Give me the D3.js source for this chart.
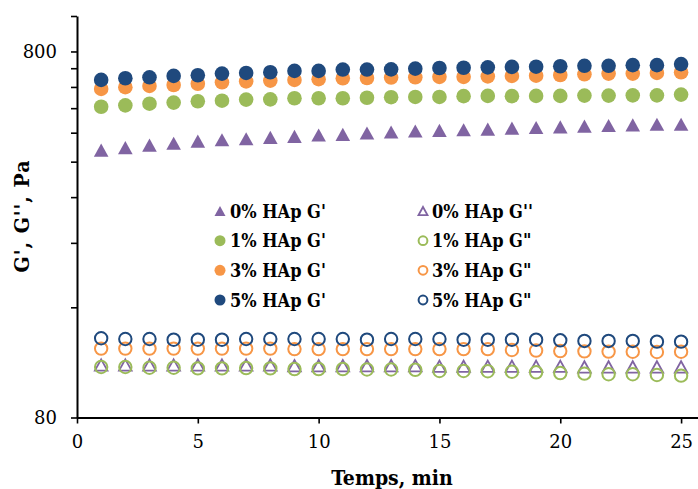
<!DOCTYPE html>
<html><head><meta charset="utf-8">
<script src="https://cdn.jsdelivr.net/npm/d3@7"></script>
<style>body{margin:0;background:#fff} svg{display:block}</style>
</head><body><svg id="c" width="698" height="489"></svg>
<script>
// ---- data ----
const times = [1,2,3,4,5,6,7,8,9,10,11,12,13,14,15,16,17,18,19,20,21,22,23,24,25];
const hap0_Gp  = [430,437,444,449,455,459,462,466,469,473,475,479,482,485,487,489,491,494,496,498,500,502,504,506,506];
const hap0_Gpp = [111.3,111.3,111.3,111.3,111.3,111.3,111.3,111.3,110.8,110.8,110.8,110.8,110.8,110.8,110.4,110.4,110.4,110.4,110.4,110.4,110.0,110.0,110.0,110.0,110.0];
const hap1_Gp  = [565,570,576,580,585,587,591,592,596,596,596,598,600,601,601,604,605,604,605,605,606,606,607,607,610];
const hap1_Gpp = [109.9,109.9,109.4,109.4,109.0,109.0,109.2,109.0,108.5,108.5,108.5,108.2,108.2,108.0,107.2,107.2,107.0,106.7,106.3,105.8,105.4,105.0,105.0,104.5,104.1];
const hap3_Gp  = [632,639,644,648,653,659,663,666,669,672,676,677,679,680,682,682,684,686,687,690,693,696,696,699,702];
const hap3_Gpp = [123.4,123.4,123.4,123.4,123.4,123.4,123.4,123.4,123.0,123.0,123.0,123.0,123.0,123.0,123.0,123.0,123.0,122.3,121.9,121.5,121.3,121.1,121.0,120.8,121.0];
const hap5_Gp  = [669,676,680,686,689,696,699,702,708,708,714,714,715,718,721,722,724,726,727,729,731,731,734,734,739];
const hap5_Gpp = [131.7,131.1,131.1,130.5,130.5,130.5,131.1,131.1,131.1,131.1,131.1,130.5,131.1,131.1,131.1,130.5,130.5,130.5,130.5,130.0,129.5,129.5,129.5,128.9,128.9];
const seriesNames = ["0% HAp G'","0% HAp G''","1% HAp G'","1% HAp G\"","3% HAp G'","3% HAp G\"","5% HAp G'","5% HAp G\""];
const xTicks = [0,5,10,15,20,25];
const yTicks = [80,160,240,320,400,480,560,640,720,800,1000];
const yTickLabels = {80:"80",800:"800"};

const colors = {p:"#8064A2", g:"#9BBB59", o:"#F79646", b:"#1F497D"};
const series = [
  {name:seriesNames[0], vals:hap0_Gp,  color:colors.p, shape:"tri", fill:true},
  {name:seriesNames[1], vals:hap0_Gpp, color:colors.p, shape:"tri", fill:false},
  {name:seriesNames[2], vals:hap1_Gp,  color:colors.g, shape:"circ", fill:true},
  {name:seriesNames[3], vals:hap1_Gpp, color:colors.g, shape:"circ", fill:false},
  {name:seriesNames[4], vals:hap3_Gp,  color:colors.o, shape:"circ", fill:true},
  {name:seriesNames[5], vals:hap3_Gpp, color:colors.o, shape:"circ", fill:false},
  {name:seriesNames[6], vals:hap5_Gp,  color:colors.b, shape:"circ", fill:true},
  {name:seriesNames[7], vals:hap5_Gpp, color:colors.b, shape:"circ", fill:false}
];

// ---- chart ----
const svg = d3.select("#c");
const FONT = "'DejaVu Serif', serif";
const FONTC = "'DejaVu Serif Condensed', 'DejaVu Serif', serif";
const x = d3.scaleLinear().domain([0,25.7]).range([77,698]);
const y = d3.scaleLog().domain([80,1000]).range([417.5,16]);

function triPath(w,h){ return `M0,${-h/2}L${w/2},${h/2}L${-w/2},${h/2}Z`; }

function drawMarker(g, s, size){
  if(s.shape==="circ"){
    if(s.fill) g.append("circle").attr("r",size/2).attr("fill",s.color);
    else g.append("circle").attr("r",size/2-1.1).attr("fill","none").attr("stroke",s.color).attr("stroke-width",2);
  } else {
    if(s.fill) g.append("path").attr("d",triPath(size,size*0.9)).attr("fill",s.color);
    else g.append("path").attr("d",triPath(size-2,(size-2)*0.9)).attr("fill","none").attr("stroke",s.color).attr("stroke-width",1.8);
  }
}

// points
series.forEach(s=>{
  const grp = svg.append("g");
  times.forEach((t,i)=>{
    const m = grp.append("g").attr("transform",`translate(${x(t)},${y(s.vals[i])})`);
    drawMarker(m, s, 14.6);
  });
});

// axes
const yAxis = d3.axisLeft(y).tickValues(yTicks).tickSize(6).tickSizeOuter(0).tickPadding(14)
  .tickFormat(d=>yTickLabels[d]||"");
const gy = svg.append("g").attr("transform","translate(77,0)").call(yAxis);
const xAxis = d3.axisBottom(x).tickValues(xTicks).tickSize(6).tickSizeOuter(0).tickPadding(12);
const gx = svg.append("g").attr("transform","translate(0,417.5)").call(xAxis);
[gx,gy].forEach(g=>{
  g.select(".domain").attr("stroke","#000").attr("stroke-width",2);
  g.selectAll(".tick line").attr("stroke","#000").attr("stroke-width",1.6);
  g.selectAll("text").attr("font-family",FONT).attr("font-size",18).attr("fill","#000");
});

// axis titles
svg.append("text").attr("x",392).attr("y",485).attr("text-anchor","middle")
  .attr("font-family",FONTC).attr("font-weight","bold").attr("font-size",21).text("Temps, min");
svg.append("text").attr("transform","translate(29,216) rotate(-90)").attr("text-anchor","middle")
  .attr("font-family",FONTC).attr("font-weight","bold").attr("font-size",21)
  .attr("letter-spacing",1).text("G', G'', Pa");

// legend
const rows = [211,240.7,270.3,300];
const cols = [{mx:220,tx:230},{mx:423,tx:432}];
series.forEach((s,i)=>{
  const r = Math.floor(i/2), c = i%2;
  const m = svg.append("g").attr("transform",`translate(${cols[c].mx},${rows[r]})`);
  drawMarker(m, s, 11);
  svg.append("text").attr("x",cols[c].tx).attr("y",rows[r]+6.5)
    .attr("font-family",FONTC).attr("font-weight","bold").attr("font-size",18).attr("fill","#000").text(s.name);
});
</script></body></html>
